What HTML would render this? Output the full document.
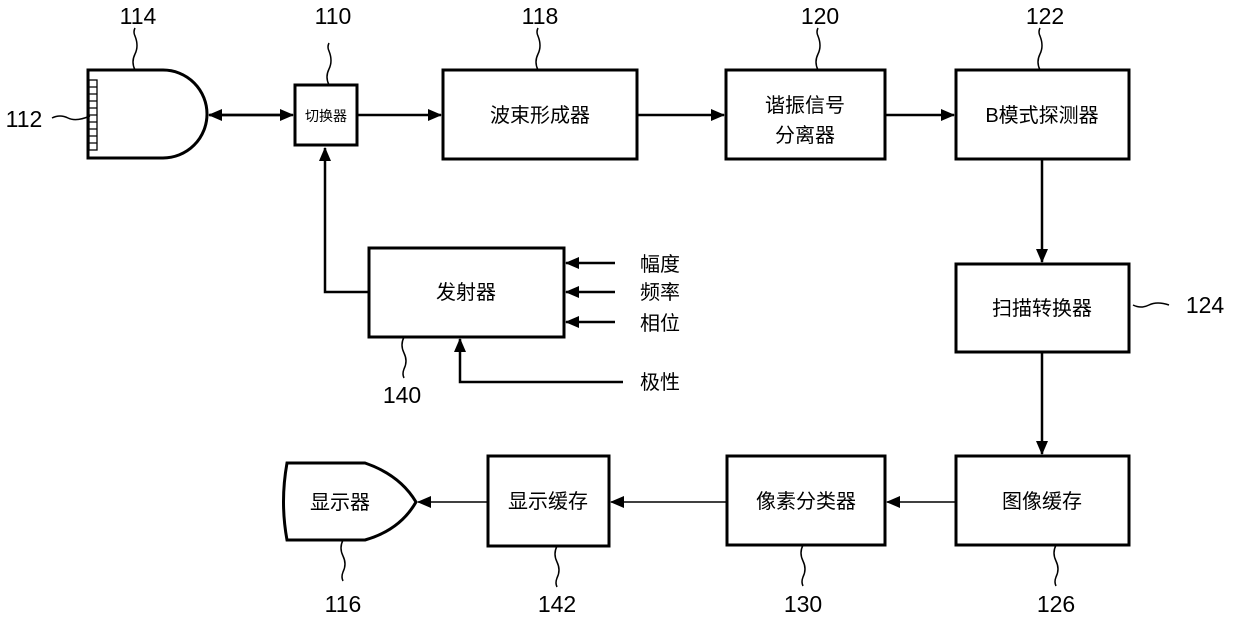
<!DOCTYPE html>
<html><head><meta charset="utf-8"><style>
body{margin:0;background:#fff}
svg text{font-family:"Liberation Sans","Noto Sans CJK SC",sans-serif;fill:#000}
</style></head><body>
<svg width="1240" height="617" viewBox="0 0 1240 617" xmlns="http://www.w3.org/2000/svg">
<defs>
<marker id="b" markerWidth="14" markerHeight="12" refX="13" refY="6" orient="auto" markerUnits="userSpaceOnUse"><path d="M0,0 L14,6 L0,12 z" fill="#000"/></marker></defs>
<g fill="none" stroke="#000" stroke-width="3">
<path d="M88,70 H163 A44,44 0 0 1 163,158 H88 Z"/>
<rect x="295" y="85" width="62" height="60"/>
<rect x="443" y="70" width="194" height="89"/>
<rect x="726" y="70" width="159" height="89"/>
<rect x="956" y="70" width="173" height="89"/>
<rect x="956" y="264" width="173" height="88"/>
<rect x="956" y="456" width="173" height="89"/>
<rect x="727" y="456" width="158" height="89"/>
<rect x="488" y="456" width="121" height="90"/>
<rect x="369" y="248" width="195" height="89"/>
<path d="M287,463 H365 Q400,475 416,502 Q400,530 365,540 H287 Q280,502 287,463 Z"/>
</g>
<g fill="none" stroke="#000" stroke-width="1.3">
<rect x="89" y="80" width="8" height="70"/>
<path d="M89,87h8M89,94h8M89,101h8M89,108h8M89,115h8M89,122h8M89,129h8M89,136h8M89,143h8"/>
</g>
<g stroke="#000" stroke-width="2.5" fill="none">
<line x1="210" y1="115" x2="293" y2="115" marker-end="url(#b)"/>
<line x1="290" y1="115" x2="209" y2="115" marker-end="url(#b)"/>
<line x1="357" y1="115" x2="441" y2="115" marker-end="url(#b)"/>
<line x1="637" y1="115" x2="724" y2="115" marker-end="url(#b)"/>
<line x1="885" y1="115" x2="954" y2="115" marker-end="url(#b)"/>
<line x1="1042" y1="159" x2="1042" y2="262" marker-end="url(#b)"/>
<line x1="1042" y1="352" x2="1042" y2="454" marker-end="url(#b)"/>
<polyline points="369,292 325,292 325,148" marker-end="url(#b)"/>
<line x1="615" y1="263" x2="566" y2="263" marker-end="url(#b)"/>
<line x1="615" y1="292" x2="566" y2="292" marker-end="url(#b)"/>
<line x1="615" y1="322" x2="566" y2="322" marker-end="url(#b)"/>
<polyline points="623,382 460,382 460,339" marker-end="url(#b)"/>
</g>
<g stroke="#000" stroke-width="1.5" fill="none">
<line x1="956" y1="502" x2="887" y2="502" marker-end="url(#b)"/>
<line x1="727" y1="502" x2="611" y2="502" marker-end="url(#b)"/>
<line x1="488" y1="502" x2="418" y2="502" marker-end="url(#b)"/>
</g>
<g stroke="#000" stroke-width="1.5" fill="none">
<path d="M135,70 q-4,-8 0,-16 q4,-8 0,-18 q-2,-4 0,-8"/>
<path d="M329,85 q-4,-8 0,-16 q4,-8 0,-18 q-2,-4 0,-8"/>
<path d="M538,70 q-4,-8 0,-16 q4,-8 0,-18 q-2,-4 0,-8"/>
<path d="M818,70 q-4,-8 0,-16 q4,-8 0,-18 q-2,-4 0,-8"/>
<path d="M1040,70 q-4,-8 0,-16 q4,-8 0,-18 q-2,-4 0,-8"/>
<path d="M52,118 q8,-4 16,0 q8,4 22,-2"/>
<path d="M1133,305 q8,4 16,0 q8,-4 20,0"/>
<path d="M404,337 q-4,8 0,16 q4,8 0,16 q-2,5 0,9"/>
<path d="M343,540 q-4,8 0,16 q4,8 0,16 q-2,5 0,9"/>
<path d="M557,546 q-4,8 0,16 q4,8 0,16 q-2,5 0,9"/>
<path d="M803,545 q-4,8 0,16 q4,8 0,16 q-2,5 0,9"/>
<path d="M1056,545 q-4,8 0,16 q4,8 0,16 q-2,5 0,9"/>
</g>
<g font-size="23" text-anchor="middle">
<text x="138" y="24">114</text><text x="333" y="24">110</text><text x="540" y="24">118</text>
<text x="820" y="24">120</text><text x="1045" y="24">122</text>
<text x="24" y="127">112</text><text x="1205" y="313">124</text>
<text x="402" y="403">140</text><text x="343" y="612">116</text><text x="557" y="612">142</text>
<text x="803" y="612">130</text><text x="1056" y="612">126</text>
</g>
<g font-size="20" text-anchor="middle">
<text x="326" y="121" font-size="14">切换器</text>
<text x="540" y="122">波束形成器</text>
<text x="805" y="112">谐振信号</text><text x="805" y="142">分离器</text>
<text x="1042" y="122">B模式探测器</text>
<text x="1042" y="315">扫描转换器</text>
<text x="1042" y="508">图像缓存</text>
<text x="806" y="508">像素分类器</text>
<text x="548" y="508">显示缓存</text>
<text x="340" y="509">显示器</text>
<text x="466" y="299">发射器</text>
<text x="660" y="271">幅度</text><text x="660" y="299">频率</text><text x="660" y="330">相位</text>
<text x="660" y="389">极性</text>
</g>
</svg>
</body></html>
